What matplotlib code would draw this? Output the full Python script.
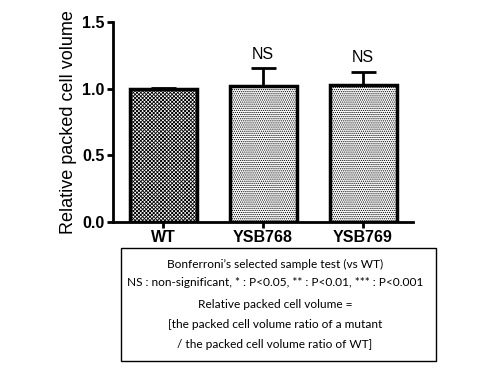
import matplotlib
matplotlib.use("Agg")
import matplotlib.pyplot as plt
from matplotlib.patches import Rectangle

# datos
cepas = ['WT', 'YSB768', 'YSB769']
volumen = [1.0, 1.02, 1.027]
error = [0.005, 0.133, 0.10]
tramas = ['xxxxxxxxx', '........', '........']
marcas = ['', 'NS', 'NS']

plt.rcParams['hatch.linewidth'] = 0.6

fig = plt.figure(figsize=(4.8, 3.7), dpi=100)
ax = fig.add_axes([113/480, 1 - 222/370, 300/480, 200/370])

x = range(len(cepas))
for i in x:
    ax.bar(i, volumen[i], width=0.67, color='white', edgecolor='black',
           linewidth=2.5, hatch=tramas[i], zorder=2)
    ax.errorbar(i, volumen[i], yerr=[[0], [error[i]]], color='black',
                elinewidth=2, capsize=9, capthick=2, zorder=3)
    if marcas[i]:
        ax.text(i, volumen[i] + error[i] + 0.05, marcas[i], ha='center',
                va='bottom', fontsize=11.5, family='Liberation Sans')

ax.set_xlim(-0.5, 2.5)
ax.set_ylim(0, 1.5)
ax.set_yticks([0.0, 0.5, 1.0, 1.5])
ax.set_yticklabels(['0.0', '0.5', '1.0', '1.5'])
ax.set_xticks(list(x))
ax.set_xticklabels(cepas)
for lab in ax.get_xticklabels() + ax.get_yticklabels():
    lab.set_fontweight('bold')
    lab.set_fontsize(11.5)
    lab.set_family('Liberation Sans')
ax.set_ylabel('Relative packed cell volume', fontsize=13,
              family='Liberation Sans', labelpad=4)
ax.spines['top'].set_visible(False)
ax.spines['right'].set_visible(False)
ax.spines['left'].set_linewidth(2)
ax.spines['bottom'].set_linewidth(2)
ax.tick_params(width=2, length=4, pad=2)

# recuadro con la nota
fig.patches.append(Rectangle((121/480, 1 - 361/370), 315/480, 113/370,
                             transform=fig.transFigure, fill=False,
                             edgecolor='black', linewidth=1))
lineas = [
    (264, "Bonferroni\u2019s selected sample test (vs WT)"),
    (282, "NS : non-significant, * : P<0.05, ** : P<0.01, *** : P<0.001"),
    (304, "Relative packed cell volume ="),
    (324, "[the packed cell volume ratio of a mutant"),
    (344, "/ the packed cell volume ratio of WT]"),
]
for y, t in lineas:
    fig.text(275/480, 1 - y/370, t, ha='center', va='center', fontsize=8.6,
             family='Lato')

fig.savefig('out.png', dpi=100)
